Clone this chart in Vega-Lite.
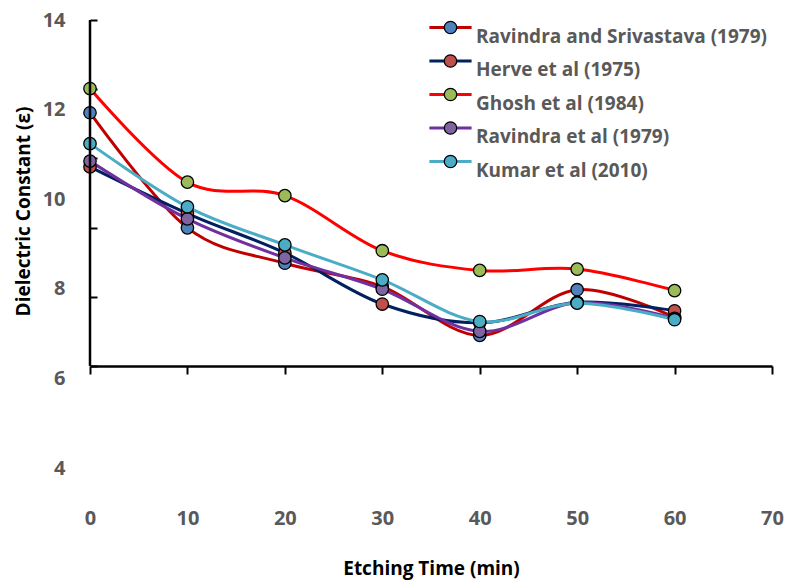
{
  "$schema": "https://vega.github.io/schema/vega-lite/v6.json",
  "width": 682,
  "height": 448,
  "autosize": "none",
  "padding": {"left": 90, "top": 20, "right": 15, "bottom": 114},
  "background": "white",
  "config": {"view": {"stroke": null}},
  "data": {"values": [
    {"series": "Ravindra and Srivastava (1979)", "time": 0, "eps": 11.93},
    {"series": "Ravindra and Srivastava (1979)", "time": 10, "eps": 9.36},
    {"series": "Ravindra and Srivastava (1979)", "time": 20, "eps": 8.57},
    {"series": "Ravindra and Srivastava (1979)", "time": 30, "eps": 8.05},
    {"series": "Ravindra and Srivastava (1979)", "time": 40, "eps": 6.96},
    {"series": "Ravindra and Srivastava (1979)", "time": 50, "eps": 7.98},
    {"series": "Ravindra and Srivastava (1979)", "time": 60, "eps": 7.36},
    {"series": "Herve et al (1975)", "time": 0, "eps": 10.72},
    {"series": "Herve et al (1975)", "time": 10, "eps": 9.68},
    {"series": "Herve et al (1975)", "time": 20, "eps": 8.8},
    {"series": "Herve et al (1975)", "time": 30, "eps": 7.66},
    {"series": "Herve et al (1975)", "time": 40, "eps": 7.24},
    {"series": "Herve et al (1975)", "time": 50, "eps": 7.7},
    {"series": "Herve et al (1975)", "time": 60, "eps": 7.51},
    {"series": "Ghosh et al (1984)", "time": 0, "eps": 12.47},
    {"series": "Ghosh et al (1984)", "time": 10, "eps": 10.38},
    {"series": "Ghosh et al (1984)", "time": 20, "eps": 10.08},
    {"series": "Ghosh et al (1984)", "time": 30, "eps": 8.85},
    {"series": "Ghosh et al (1984)", "time": 40, "eps": 8.41},
    {"series": "Ghosh et al (1984)", "time": 50, "eps": 8.44},
    {"series": "Ghosh et al (1984)", "time": 60, "eps": 7.96},
    {"series": "Ravindra et al (1979)", "time": 0, "eps": 10.85},
    {"series": "Ravindra et al (1979)", "time": 10, "eps": 9.56},
    {"series": "Ravindra et al (1979)", "time": 20, "eps": 8.69},
    {"series": "Ravindra et al (1979)", "time": 30, "eps": 7.99},
    {"series": "Ravindra et al (1979)", "time": 40, "eps": 7.05},
    {"series": "Ravindra et al (1979)", "time": 50, "eps": 7.69},
    {"series": "Ravindra et al (1979)", "time": 60, "eps": 7.34},
    {"series": "Kumar et al (2010)", "time": 0, "eps": 11.24},
    {"series": "Kumar et al (2010)", "time": 10, "eps": 9.83},
    {"series": "Kumar et al (2010)", "time": 20, "eps": 8.98},
    {"series": "Kumar et al (2010)", "time": 30, "eps": 8.2},
    {"series": "Kumar et al (2010)", "time": 40, "eps": 7.27},
    {"series": "Kumar et al (2010)", "time": 50, "eps": 7.68},
    {"series": "Kumar et al (2010)", "time": 60, "eps": 7.31}
  ]},
  "resolve": {"axis": {"x": "independent", "y": "independent"}},
  "layer": [
    {
      "mark": {"type": "line", "interpolate": "cardinal", "strokeWidth": 3},
      "encoding": {
        "x": {"field": "time", "type": "quantitative",
          "scale": {"domain": [0, 70], "nice": false, "zero": false},
          "axis": {"orient": "bottom", "values": [0, 10, 20, 30, 40, 50, 60, 70], "ticks": false, "domain": false, "grid": false, "labelFlush": false,
            "labelPadding": 40, "labelFont": "Open Sans", "labelFontWeight": "bold", "labelFontSize": 20, "labelColor": "#595959",
            "title": "Etching Time (min)", "titleFont": "Open Sans", "titleFontSize": 19, "titleFontWeight": "bold", "titleColor": "black",
            "titleX": 341, "titleY": 100, "titleBaseline": "middle", "titleAlign": "center"}},
        "y": {"field": "eps", "type": "quantitative",
          "scale": {"domain": [4, 14], "nice": false, "zero": false},
          "axis": {"orient": "left", "values": [4, 6, 8, 10, 12, 14], "ticks": false, "domain": false, "grid": false, "labelFlush": false,
            "labelPadding": 25, "labelFont": "Open Sans", "labelFontWeight": "bold", "labelFontSize": 20, "labelColor": "#595959",
            "title": "Dielectric Constant (ε)", "titleFont": "Open Sans", "titleFontSize": 19, "titleFontWeight": "bold", "titleColor": "black",
            "titleX": -67, "titleY": 191, "titleBaseline": "middle", "titleAlign": "center", "titleAngle": -90}},
        "stroke": {"field": "series", "type": "nominal",
          "scale": {"domain": ["Ravindra and Srivastava (1979)", "Herve et al (1975)", "Ghosh et al (1984)", "Ravindra et al (1979)", "Kumar et al (2010)"],
            "range": ["#C00000", "#002060", "#FF0000", "#7030A0", "#4BACC6"]},
          "legend": {"orient": "none", "legendX": 351, "legendY": -2, "title": null, "symbolType": "M-3.4,0H3.4", "symbolSize": 154, "symbolStrokeWidth": 3,
            "labelFont": "Open Sans", "labelFontWeight": "bold", "labelFontSize": 19, "labelColor": "#595959", "labelBaseline": "top", "rowPadding": 4.5, "labelOffset": 16, "labelLimit": 400}}
      }
    },
    {
      "mark": {"type": "point", "filled": true, "size": 154, "stroke": "black", "strokeWidth": 1.3, "opacity": 1},
      "encoding": {
        "x": {"field": "time", "type": "quantitative",
          "axis": {"orient": "bottom", "offset": -102, "values": [0, 10, 20, 30, 40, 50, 60, 70], "labels": false, "tickSize": 8, "tickWidth": 2, "tickColor": "black",
            "domain": true, "domainColor": "black", "domainWidth": 2.5, "grid": false, "title": null}},
        "y": {"field": "eps", "type": "quantitative",
          "axis": {"orient": "left", "values": [14, 12.455, 10.911, 9.366, 7.821, 6.277], "labels": false, "tickSize": -7, "tickWidth": 2, "tickColor": "black",
            "domain": false, "grid": false, "title": null}},
        "fill": {"field": "series", "type": "nominal",
          "sort": ["Ravindra and Srivastava (1979)", "Herve et al (1975)", "Ghosh et al (1984)", "Ravindra et al (1979)", "Kumar et al (2010)"],
          "scale": {"range": ["#4F81BD", "#C0504D", "#9BBB59", "#8064A2", "#4BACC6"]},
          "legend": {"orient": "none", "legendX": 351, "legendY": -2, "title": null, "symbolType": "circle", "symbolSize": 154, "symbolStrokeColor": "black", "symbolStrokeWidth": 1.3,
            "labelFont": "Open Sans", "labelFontWeight": "bold", "labelFontSize": 19, "labelColor": "transparent", "labelBaseline": "top", "rowPadding": 4.5, "labelOffset": 16, "labelLimit": 400, "zindex": 2}}
      }
    },
    {
      "data": {"values": [{}]},
      "mark": {"type": "rule", "color": "black", "strokeWidth": 2.5},
      "encoding": {
        "x": {"datum": 0, "type": "quantitative", "axis": null},
        "y": {"datum": 6.277, "type": "quantitative", "axis": null},
        "y2": {"datum": 14}
      }
    }
  ]
}
